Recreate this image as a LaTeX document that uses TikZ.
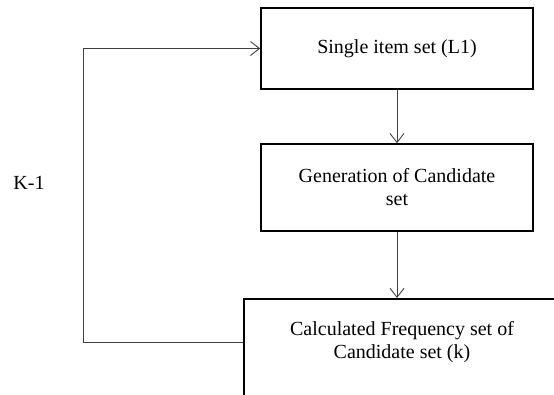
\documentclass[tikz,border=0pt]{standalone}
\usepackage{fontspec}
\setmainfont{Liberation Serif}
\usetikzlibrary{arrows.meta}

\tikzset{
  stage/.style={draw, line width=1.6pt, minimum width=272pt, align=center, font=\fontsize{20}{23}\selectfont},
  conn/.style={draw=black!75, line width=0.9pt, -{Straight Barb[length=9pt,width=14pt]}},
}

\begin{document}
\begin{tikzpicture}[x=1pt, y=-1pt]

    % Keep the page at the size of the reference
    \useasboundingbox (0,0) rectangle (554,394);
    \clip (0,0) rectangle (554,394);

    % The first stage (single items)
    \node[stage, minimum height=81pt] (single) at (397,48.5) {Single item set (L1)};

    % The candidate stage below it
    \node[stage, minimum height=87pt] (gen) at (397,187.5) {Generation of Candidate\\set};

    % The last stage, cut off by the page edge
    \node[draw, line width=1.6pt, minimum width=318pt, minimum height=130pt, anchor=north west] (freq) at (243,298) {};
    \node[align=center, font=\fontsize{20}{23}\selectfont] (calc) at (402,342) {Calculated Frequency set of\\Candidate set (k)};

    % Corner of the loop back and its label
    \coordinate (turn) at (83,48.5);
    \node[font=\fontsize{20}{23}\selectfont] (k) at (29,183) {K-1};

    % Arrows down through the stages
    \draw[conn] (single) -- (gen);
    \draw[conn] (gen) -- (gen |- freq.north);

    % Loop from the last stage back to the first
    \draw[conn] (calc -| freq.west) -| (turn) -- (single.west);

\end{tikzpicture}
\end{document}
